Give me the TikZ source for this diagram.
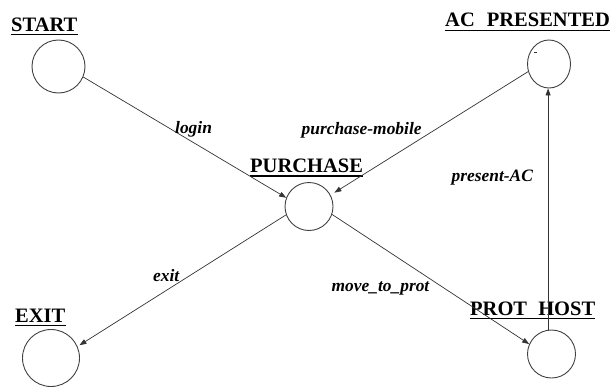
\documentclass[tikz,border=0pt]{standalone}
\usepackage{fontspec}
\setmainfont{Liberation Serif}
\usetikzlibrary{arrows.meta,shapes.geometric}

\tikzset{
  state/.style={circle, draw=black!75, line width=0.9pt, inner sep=0pt},
  ovalstate/.style={ellipse, draw=black!75, line width=0.9pt, inner sep=0pt},
  statename/.style={inner sep=0pt, anchor=base west, font=\fontsize{20.5}{22}\selectfont\bfseries},
  uline/.style={line width=1.2pt, black},
  trans/.style={draw=black!80, line width=0.7pt, -{Triangle[length=7pt,width=5pt]}},
  translabel/.style={inner sep=0pt, anchor=base west, font=\fontsize{17.4}{19}\selectfont\bfseries\itshape},
}

\begin{document}
\begin{tikzpicture}[x=1pt, y=-1pt]
  \useasboundingbox (0,0) rectangle (613,388);

  % states
  \node[state, minimum size=53pt] (start) at (58.5,66.5) {};
  \node[state, minimum size=48pt] (purchase) at (309,206.5) {};
  \node[ovalstate, minimum width=43pt, minimum height=48pt] (ac) at (549,64) {};
  \node[state, minimum size=57pt] (exit) at (51,358) {};
  \node[state, minimum size=48pt] (prot) at (551.5,354) {};
  \draw[black!80, line width=0.6pt] ([shift={(-15,-11.5)}]ac.center) -- ++(3,0);

  % state names
  \node[statename] (lstart) at (11,31) {START};
  \node[statename] (lac) at (445,27) {AC\hspace*{7pt} PRESENTED};
  \node[statename] (lpurchase) at (250,172.5) {PURCHASE};
  \node[statename] (lexit) at (15,322) {EXIT};
  \node[statename] (lprot) at (470,315) {PROT\hspace*{6pt} HOST};
  \foreach \n in {lstart,lac,lpurchase,lexit,lprot}
    \draw[uline] ([yshift=-3.5pt]\n.base west) -- ([yshift=-3.5pt]\n.base east);

  % transitions
  \draw[trans] (start.-23) -- (purchase.159);
  \draw[trans] (ac.-160) -- ([shift={(4,-2)}]purchase.29);
  \draw[trans] (purchase.-160) -- ([shift={(2,-1)}]exit.24);
  \draw[trans] (purchase.-19) -- (prot.156);
  \draw[trans] (prot.98) -- (prot.98 |- ac.south);

  % transition labels
  \node[translabel] (tlogin) at (175,133) {login};
  \node[translabel] (tmobile) at (301.5,134) {purchase-mobile};
  \node[translabel] (tpresent) at (451.5,181) {present-AC};
  \node[translabel] (texit) at (153,281.5) {exit};
  \node[translabel] (tmove) at (331.5,291.5) {move\_to\_prot};
\end{tikzpicture}
\end{document}
